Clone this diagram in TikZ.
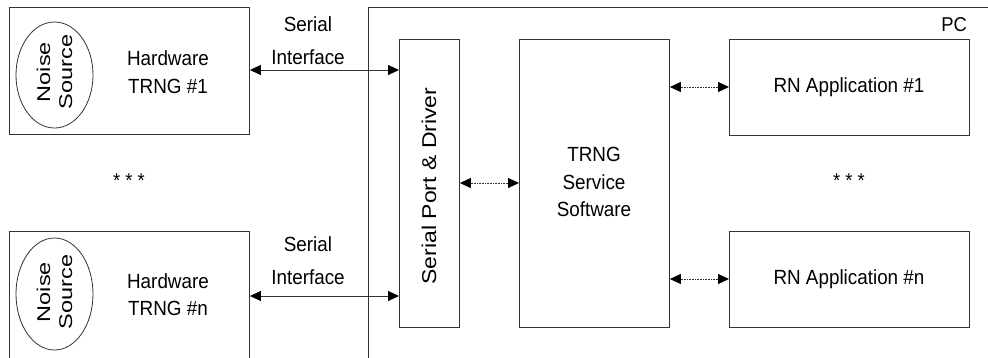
\documentclass[tikz,border=0pt]{standalone}
\usepackage{fontspec}
\setmainfont{Liberation Sans}
\newfontfamily\hfont[FakeStretch=0.92]{Liberation Sans}
\newfontfamily\vfont[FakeStretch=1.15]{Liberation Sans}
\newfontfamily\nfont[FakeStretch=1.27]{Liberation Sans}
\usetikzlibrary{arrows.meta,shapes.geometric}
\definecolor{linec}{HTML}{333333}
\tikzset{
  box/.style={draw=linec, line width=0.9pt, rectangle, inner sep=0pt, anchor=north west},
  noise/.style={draw=linec, line width=0.8pt, ellipse, inner sep=0pt},
  htext/.style={font=\hfont\fontsize{20.5}{27.5}\selectfont, align=center, inner sep=0pt, text=black},
  stext/.style={font=\hfont\fontsize{20.5}{33}\selectfont, align=center, inner sep=0pt, text=black},
  vtext/.style={font=\vfont\fontsize{20}{24}\selectfont, rotate=90, inner sep=0pt, text=black},
  ntext/.style={font=\nfont\fontsize{18.5}{22}\selectfont, align=center, rotate=90, inner sep=0pt, text=black},
  tip/.tip={Triangle[length=11pt,width=10pt,color=black,fill=black]},
  solidlink/.style={draw=linec, line width=0.9pt, tip-tip},
  dotlink/.style={draw=linec, line width=0.9pt, dash pattern=on 1pt off 0.6pt, tip-tip},
}
\begin{document}
\begin{tikzpicture}[x=1pt,y=-1pt]
\clip (0,0) rectangle (988,357);
\fill[white] (0,0) rectangle (988,357);
% PC frame
\node[box, minimum width=700pt, minimum height=400pt] (pc) at (368,7) {};
\node[htext, font=\hfont\fontsize{20}{24}\selectfont, anchor=base east] (pclabel) at (967,31) {PC};
% hardware boxes
\node[box, minimum width=240pt, minimum height=127pt] (hw1) at (9,7) {};
\node[box, minimum width=240pt, minimum height=200pt] (hwn) at (9,231) {};
\node[noise, minimum width=77pt, minimum height=106pt] (ns1) at (54.5,75) {};
\node[noise, minimum width=77pt, minimum height=112pt] (nsn) at (54.5,294) {};
\node[ntext] (nt1) at (54.5,72) {Noise\\Source};
\node[ntext] (ntn) at (54.5,292) {Noise\\Source};
\node[htext] (hl1) at (168,72) {Hardware\\TRNG \#1};
\node[htext] (hln) at (168,294.5) {Hardware\\TRNG \#n};
\node[stext] (si1) at (308,41) {Serial\\Interface};
\node[stext] (sin) at (308,261) {Serial\\Interface};
\node[htext, font=\hfont\fontsize{20}{24}\selectfont, anchor=base] (dl) at (129,187) {* * *};
% PC internals
\node[box, minimum width=60pt, minimum height=288pt] (sp) at (399,39) {};
\node[vtext] (spt) at (429,186) {Serial Port \& Driver};
\node[box, minimum width=150pt, minimum height=288pt] (svc) at (519,39) {};
\node[htext] (svct) at (594,182) {TRNG\\Service\\Software};
\node[box, minimum width=240pt, minimum height=96pt] (app1) at (729,39) {};
\node[box, minimum width=240pt, minimum height=96pt] (appn) at (729,231) {};
\node[htext] (a1t) at (849,87) {RN Application \#1};
\node[htext] (ant) at (849,279) {RN Application \#n};
\node[htext, font=\hfont\fontsize{20}{24}\selectfont, anchor=base] (dr) at (849,187) {* * *};
% connector heights
\coordinate (y1) at (0,70);
\coordinate (yn) at (0,296);
\coordinate (ym) at (0,183);
\coordinate (ya1) at (0,87);
\coordinate (yan) at (0,279);
\draw[solidlink] (hw1.east |- y1) -- (sp.west |- y1);
\draw[solidlink] (hwn.north east |- yn) -- (sp.west |- yn);
\draw[dotlink] (sp.east |- ym) -- (svc.west |- ym);
\draw[dotlink] (svc.east |- ya1) -- (app1.west |- ya1);
\draw[dotlink] (svc.east |- yan) -- (appn.west |- yan);
\end{tikzpicture}
\end{document}
